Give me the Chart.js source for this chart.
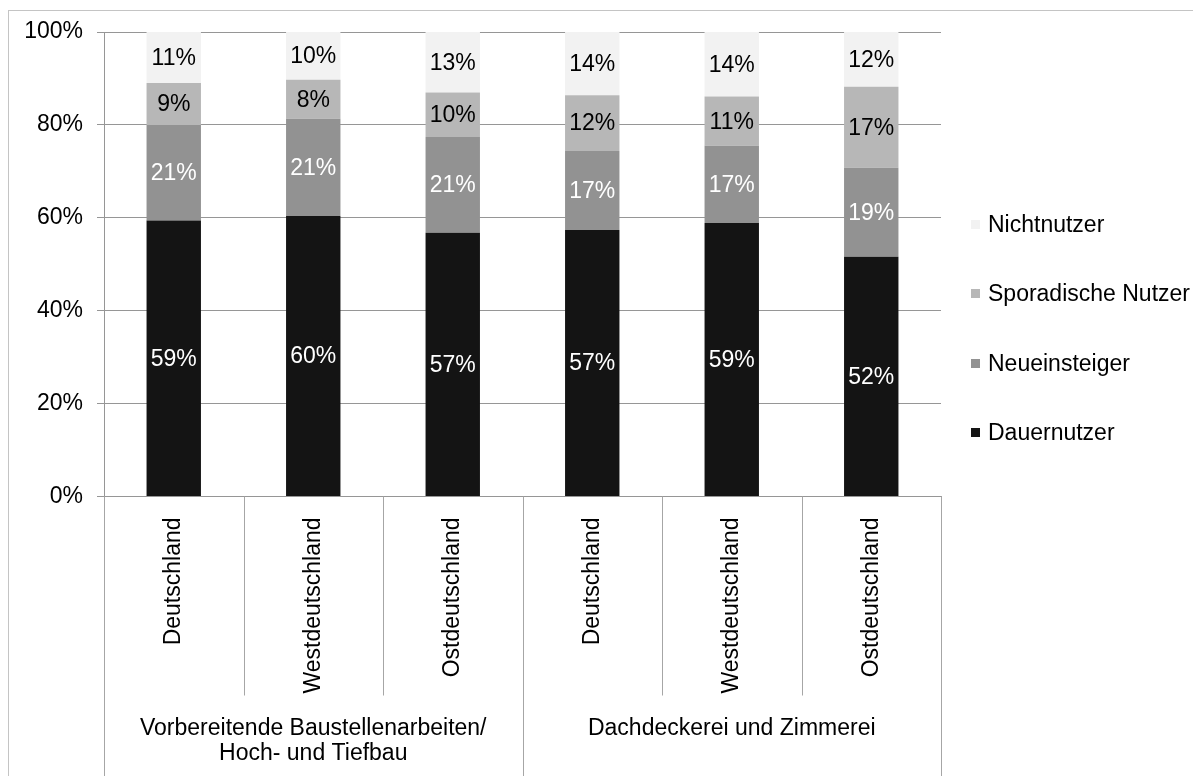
<!DOCTYPE html>
<html lang="de">
<head>
<meta charset="utf-8">
<title>Nutzertypen nach Branche und Region</title>
<script src="https://cdn.jsdelivr.net/npm/chart.js@4.4.1/dist/chart.umd.min.js"></script>
<style>
    body { margin: 0; background: #fff; }
    #wrap { position: relative; width: 1193px; height: 776px; overflow: hidden; }
    #chart { position: absolute; left: 0; top: 0; }
    #legend { position: absolute; left: 971px; top: 190px; font-family: "Liberation Sans", Arial, sans-serif; font-size: 23px; color: #000; }
    .legend-item { height: 69.3px; display: flex; align-items: center; white-space: nowrap; }
    .legend-box { width: 9px; height: 9px; margin-right: 8px; flex: none; }
</style>
</head>
<body>
<div id="wrap">
    <canvas id="chart" width="1193" height="776"></canvas>
    <div id="legend"></div>
</div>
<script>
// Daten
const regionen = ['Deutschland', 'Westdeutschland', 'Ostdeutschland', 'Deutschland', 'Westdeutschland', 'Ostdeutschland'];
const branchen = [['Vorbereitende Baustellenarbeiten/', 'Hoch- und Tiefbau'], ['Dachdeckerei und Zimmerei']];
const regionenProBranche = 3;

const dauernutzer = [59.4, 60.4, 56.8, 57.4, 58.9, 51.6];
const neueinsteiger = [20.6, 20.9, 20.6, 17.0, 16.6, 19.2];
const sporadischeNutzer = [9.0, 8.4, 9.6, 12.0, 10.6, 17.4];
const nichtnutzer = [11.0, 10.3, 13.0, 13.6, 13.9, 11.8];

const yTicks = [0, 20, 40, 60, 80, 100];

const FONT = '"Liberation Sans", Arial, sans-serif';
const GRID = '#969696';

document.addEventListener('DOMContentLoaded', function() {
    initChart();
    buildLegend();
});

// Rahmen um die ganze Grafik
const rahmenPlugin = {
    id: 'rahmen',
    beforeDraw(chart) {
        const ctx = chart.ctx;
        ctx.save();
        ctx.fillStyle = '#fff';
        ctx.fillRect(0, 0, chart.width, chart.height);
        ctx.strokeStyle = '#c4c4c4';
        ctx.lineWidth = 1;
        ctx.strokeRect(8.5, 10.5, chart.width + 20, chart.height + 20);
        ctx.restore();
    }
};

// Prozentwerte in die Balken schreiben
const wertePlugin = {
    id: 'werte',
    afterDatasetsDraw(chart) {
        const ctx = chart.ctx;
        ctx.save();
        ctx.font = '23px ' + FONT;
        ctx.textAlign = 'center';
        ctx.textBaseline = 'middle';
        chart.data.datasets.forEach((ds, i) => {
            const meta = chart.getDatasetMeta(i);
            meta.data.forEach((bar, j) => {
                const mitte = (bar.y + bar.base) / 2;
                ctx.fillStyle = ds.labelColor;
                ctx.fillText(Math.round(ds.data[j]) + '%', bar.x, mitte + 1);
            });
        });
        ctx.restore();
    }
};

// Trennlinien und Branchennamen unter der x-Achse
const kategorienPlugin = {
    id: 'kategorien',
    afterDraw(chart) {
        const x = chart.scales.x;
        const ctx = chart.ctx;
        const n = regionen.length;
        const grenzen = [x.left];
        for (let i = 0; i < n - 1; i++) {
            grenzen.push((x.getPixelForValue(i) + x.getPixelForValue(i + 1)) / 2);
        }
        grenzen.push(x.right);

        ctx.save();
        ctx.strokeStyle = '#a6a6a6';
        ctx.lineWidth = 1;
        grenzen.forEach((gx, i) => {
            const aussen = i % regionenProBranche === 0;
            const px = Math.round(gx) + 0.5;
            ctx.beginPath();
            ctx.moveTo(px, x.top);
            ctx.lineTo(px, aussen ? chart.height : x.top + 199);
            ctx.stroke();
        });

        ctx.font = '23px ' + FONT;
        ctx.fillStyle = '#000';
        ctx.textAlign = 'center';
        ctx.textBaseline = 'middle';
        branchen.forEach((zeilen, b) => {
            const mitte = (grenzen[b * regionenProBranche] + grenzen[(b + 1) * regionenProBranche]) / 2;
            zeilen.forEach((z, k) => {
                ctx.fillText(z, mitte, 729 + k * 25);
            });
        });
        ctx.restore();
    }
};

function initChart() {
    const ctx = document.getElementById('chart').getContext('2d');
    window.nutzerChart = new Chart(ctx, {
        type: 'bar',
        data: {
            labels: regionen,
            datasets: [
                { label: 'Dauernutzer', data: dauernutzer, backgroundColor: '#141414', labelColor: '#fff' },
                { label: 'Neueinsteiger', data: neueinsteiger, backgroundColor: '#929292', labelColor: '#fff' },
                { label: 'Sporadische Nutzer', data: sporadischeNutzer, backgroundColor: '#b7b7b7', labelColor: '#000' },
                { label: 'Nichtnutzer', data: nichtnutzer, backgroundColor: '#f2f2f2', labelColor: '#000' }
            ]
        },
        options: {
            responsive: false,
            animation: false,
            devicePixelRatio: 1,
            layout: { padding: { top: 32, right: 252, bottom: 0, left: 0 } },
            datasets: {
                bar: { categoryPercentage: 1, barPercentage: 0.39, borderWidth: 0 }
            },
            plugins: {
                legend: { display: false },
                tooltip: { enabled: false }
            },
            scales: {
                x: {
                    stacked: true,
                    grid: { display: false, drawTicks: false },
                    border: { display: true, color: GRID },
                    ticks: {
                        color: '#000',
                        font: { family: FONT, size: 23 },
                        minRotation: 90,
                        maxRotation: 90,
                        padding: 21,
                        autoSkip: false
                    },
                    afterFit: function(scale) { scale.height = 279.5; }
                },
                y: {
                    stacked: true,
                    min: 0,
                    max: 100,
                    afterBuildTicks: function(scale) {
                        scale.ticks = yTicks.map(v => ({ value: v }));
                    },
                    grid: { color: GRID, tickLength: 7, drawTicks: true },
                    border: { display: true, color: GRID },
                    ticks: {
                        color: '#000',
                        font: { family: FONT, size: 23 },
                        padding: 14,
                        callback: function(value) { return value + '%'; }
                    },
                    afterFit: function(scale) { scale.width = 104; }
                }
            }
        },
        plugins: [rahmenPlugin, wertePlugin, kategorienPlugin]
    });
}

function buildLegend() {
    // Legende in umgekehrter Reihenfolge wie im Stapel
    const legend = document.getElementById('legend');
    legend.innerHTML = '';
    window.nutzerChart.data.datasets.slice().reverse().forEach(ds => {
        const item = document.createElement('div');
        item.className = 'legend-item';
        item.innerHTML = `<span class="legend-box" style="background:${ds.backgroundColor}"></span><span>${ds.label}</span>`;
        legend.appendChild(item);
    });
}
</script>
</body>
</html>
